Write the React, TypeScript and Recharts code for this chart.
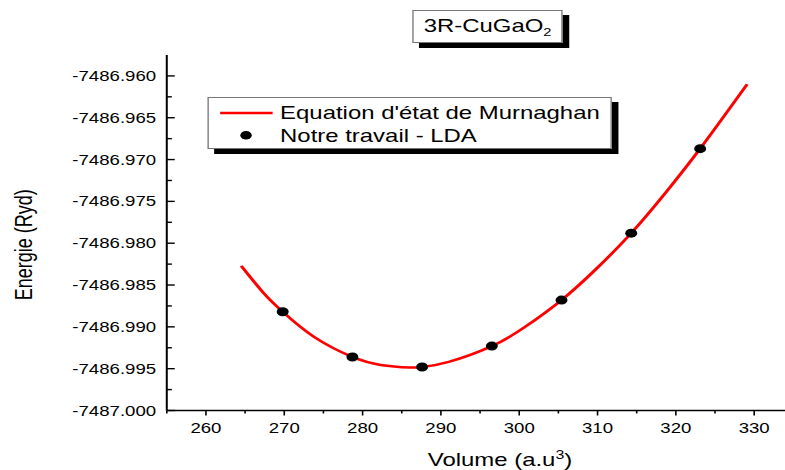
import React from "react";
import { ComposedChart, Line, Scatter, XAxis, YAxis, Legend } from "recharts";

const FONT = '"Liberation Sans", Arial, sans-serif';
// the whole figure is drawn wide: everything is stretched along x
const STRETCH = 1.33;

// LDA total energies (Ryd) against cell volume (a.u^3)
const volumes = [269.8, 278.7, 287.6, 296.5, 305.4, 314.3, 323.1];
const energies = [
  -7486.9882, -7486.9936, -7486.9948, -7486.9923, -7486.9868, -7486.9788,
  -7486.9687,
];

// Murnaghan equation of state, sampled along the fitted curve
const fitVolumes = [
  264.5, 267.4, 269.8, 273.8, 278.7, 282.3, 286.0, 287.6, 291.0, 296.5, 300.6,
  305.4, 309.8, 314.3, 318.7, 323.1, 329.1,
];
const fitEnergies = [
  -7486.9827, -7486.986, -7486.9882, -7486.9912, -7486.9936, -7486.99455,
  -7486.99486, -7486.9948, -7486.99418, -7486.9923, -7486.9901, -7486.9868,
  -7486.9831, -7486.9788, -7486.97395, -7486.9687, -7486.961,
];

const xMajor = [260, 270, 280, 290, 300, 310, 320, 330];
const xMinor = [255, 265, 275, 285, 295, 305, 315, 325, 335];
const yMajor = [
  -7487.0, -7486.995, -7486.99, -7486.985, -7486.98, -7486.975, -7486.97,
  -7486.965, -7486.96,
];
const yMinor = [
  -7486.9975, -7486.9925, -7486.9875, -7486.9825, -7486.9775, -7486.9725,
  -7486.9675, -7486.9625,
];

const X_DOMAIN: [number, number] = [255, 335];
const Y_DOMAIN: [number, number] = [-7487.0, -7486.9575];

const dots = volumes.map((v, i) => ({ v, e: energies[i] }));
const fit = fitVolumes.map((v, i) => ({ v, e: fitEnergies[i] }));

const isMajor = (value: number, majors: number[]) =>
  majors.some((m) => Math.abs(m - value) < 1e-7);

const AXIS = { stroke: "#000", strokeWidth: 1.5 };

const LeftTick = ({ x, y, payload }: any) => {
  const major = isMajor(payload.value, yMajor);
  return (
    <g>
      <line x1={x} y1={y} x2={x + (major ? 6 : 3.8)} y2={y} stroke="#000" strokeWidth={1.4} />
      {major && (
        <text x={x - 8} y={y} dy="0.36em" textAnchor="end" fontFamily={FONT} fontSize={14} fill="#000">
          {payload.value.toFixed(3)}
        </text>
      )}
    </g>
  );
};

const RightTick = ({ x, y, payload }: any) => {
  const major = isMajor(payload.value, yMajor);
  return <line x1={x} y1={y} x2={x - (major ? 6 : 3.8)} y2={y} stroke="#000" strokeWidth={1.4} />;
};

const BottomTick = ({ x, y, payload }: any) => {
  const major = isMajor(payload.value, xMajor);
  return (
    <g>
      <line x1={x} y1={y} x2={x} y2={y + (major ? 5 : 3)} stroke="#000" strokeWidth={1.2} />
      {major && (
        <text x={x} y={y + 23} textAnchor="middle" fontFamily={FONT} fontSize={14} fill="#000">
          {payload.value}
        </text>
      )}
    </g>
  );
};

const TopTick = ({ x, y, payload }: any) => {
  const major = isMajor(payload.value, xMajor);
  return <line x1={x} y1={y} x2={x} y2={y + (major ? 7 : 3)} stroke="#000" strokeWidth={1.2} />;
};

const VolumeLabel = ({ viewBox }: any) => (
  <text
    x={viewBox.x + viewBox.width / 2 + 15}
    y={viewBox.y + 55.5}
    textAnchor="middle"
    fontFamily={FONT}
    fontSize={18}
    fill="#000"
  >
    Volume (a.u
    <tspan fontSize={12} dy={-7}>3</tspan>
    <tspan dy={7}>)</tspan>
  </text>
);

const EnergyLabel = ({ viewBox }: any) => {
  const cx = 23.8;
  const cy = viewBox.y + viewBox.height / 2 + 12;
  return (
    <text
      x={cx}
      y={cy}
      transform={`rotate(-90 ${cx} ${cy})`}
      textAnchor="middle"
      fontFamily={FONT}
      fontSize={18}
      fill="#000"
    >
      Energie (Ryd)
    </text>
  );
};

const LegendBox = ({ payload }: any) => (
  <div
    style={{
      width: 304,
      height: 52.6,
      boxSizing: "border-box",
      border: "1px solid #777",
      background: "#fff",
      boxShadow: "5px 5px 0 #000",
    }}
  >
    <svg width={302} height={50.6} style={{ display: "block" }}>
      {(payload || []).map((entry: any, i: number) => {
        const rowY = 15 + i * 22.3;
        return (
          <g key={entry.value}>
            {entry.type === "line" ? (
              <line x1={8.5} y1={rowY} x2={48} y2={rowY} stroke={entry.color} strokeWidth={2.5} />
            ) : (
              <circle cx={28} cy={rowY} r={4.3} fill={entry.color} />
            )}
            <text x={53.6} y={rowY + 6.3} fontFamily={FONT} fontSize={18} fill="#000">
              {entry.value}
            </text>
          </g>
        );
      })}
    </svg>
  </div>
);

const TitleBox = () => (
  <div
    style={{
      position: "absolute",
      left: 310,
      top: 10,
      width: 112.8,
      height: 33.3,
      boxSizing: "border-box",
      border: "1px solid #777",
      background: "#fff",
      boxShadow: "5px 5px 0 #000",
    }}
  >
    <svg width={110.8} height={31.3} style={{ display: "block" }}>
      <text x={7.6} y={20.7} fontFamily={FONT} fontSize={18} fill="#000">
        3R-CuGaO
        <tspan fontSize={11} dy={4}>2</tspan>
      </text>
    </svg>
  </div>
);

export default function App() {
  return (
    <div
      style={{
        position: "absolute",
        left: 0,
        top: 0,
        width: 785,
        height: 470,
        overflow: "hidden",
        background: "#fff",
      }}
    >
      <div
        style={{
          position: "relative",
          width: 600,
          height: 470,
          transform: `scaleX(${STRETCH})`,
          transformOrigin: "0 0",
        }}
      >
        <ComposedChart width={600} height={470} margin={{ top: 55, right: 3.5, bottom: 0, left: 0 }}>
          <XAxis
            xAxisId="bottom"
            dataKey="v"
            type="number"
            domain={X_DOMAIN}
            ticks={[...xMajor, ...xMinor]}
            interval={0}
            height={59.5}
            tickSize={0}
            tickMargin={0}
            tickLine={false}
            axisLine={AXIS}
            tick={(p: any) => <BottomTick {...p} />}
            label={(p: any) => <VolumeLabel {...p} />}
          />
          <XAxis
            xAxisId="top"
            orientation="top"
            dataKey="v"
            type="number"
            domain={X_DOMAIN}
            ticks={[...xMajor, ...xMinor]}
            interval={0}
            height={0}
            tickSize={0}
            tickMargin={0}
            tickLine={false}
            axisLine={AXIS}
            tick={(p: any) => <TopTick {...p} />}
          />
          <YAxis
            yAxisId="left"
            dataKey="e"
            type="number"
            domain={Y_DOMAIN}
            ticks={[...yMajor, ...yMinor]}
            interval={0}
            width={125.4}
            tickSize={0}
            tickMargin={0}
            tickLine={false}
            axisLine={AXIS}
            tick={(p: any) => <LeftTick {...p} />}
            label={(p: any) => <EnergyLabel {...p} />}
          />
          <YAxis
            yAxisId="right"
            orientation="right"
            type="number"
            domain={Y_DOMAIN}
            ticks={[...yMajor, ...yMinor]}
            interval={0}
            width={0}
            tickSize={0}
            tickMargin={0}
            tickLine={false}
            axisLine={AXIS}
            tick={(p: any) => <RightTick {...p} />}
          />
          <Legend
            layout="horizontal"
            verticalAlign="middle"
            align="center"
            wrapperStyle={{ left: 155.9, top: 96.7, width: "auto" }}
            content={(p: any) => <LegendBox {...p} />}
          />
          <Line
            data={fit}
            dataKey="e"
            name="Equation d'état de Murnaghan"
            legendType="line"
            xAxisId="bottom"
            yAxisId="left"
            type="natural"
            stroke="#ff0000"
            strokeWidth={2.5}
            dot={false}
            activeDot={false}
            isAnimationActive={false}
          />
          <Scatter
            data={dots}
            dataKey="e"
            name="Notre travail - LDA"
            legendType="circle"
            xAxisId="bottom"
            yAxisId="left"
            fill="#000"
            shape={(p: any) => <circle cx={p.cx} cy={p.cy} r={4.5} fill="#000" />}
            isAnimationActive={false}
          />
        </ComposedChart>
        <TitleBox />
      </div>
    </div>
  );
}
